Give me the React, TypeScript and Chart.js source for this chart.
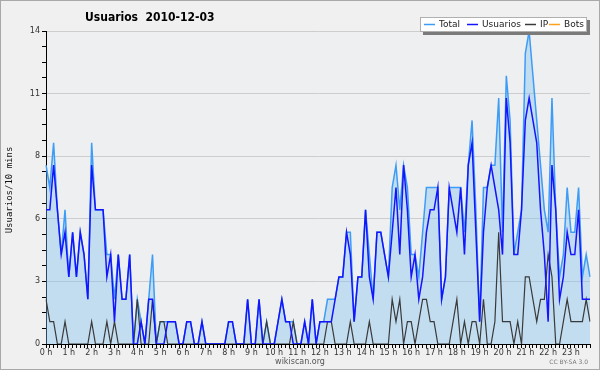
import React, { useEffect, useRef } from 'react';
import { Chart, registerables } from 'chart.js';

Chart.register(...registerables);

// hour tick labels (one every 6 ten-minute slots)
const hourLabels = [
  '0 h', '1 h', '2 h', '3 h', '4 h', '5 h', '6 h', '7 h', '8 h', '9 h', '10 h', '11 h',
  '12 h', '13 h', '14 h', '15 h', '16 h', '17 h', '18 h', '19 h', '20 h', '21 h', '22 h', '23 h',
];

// y tick labels shown at the major ticks
const yMajorLabels = [0, 3, 6, 8, 11, 14];
const yMax = 14;

// 144 ten-minute slots
const total = [
  8, 7, 9, 6, 4, 6, 3, 5, 3, 5, 4, 2,
  9, 6, 6, 6, 4, 4, 2, 4, 2, 2, 4, 0,
  2, 1, 0, 2, 4, 0, 1, 1, 1, 1, 1, 0,
  0, 1, 1, 0, 0, 1, 0, 0, 0, 0, 0, 0,
  1, 1, 0, 0, 0, 2, 0, 0, 2, 0, 1, 0,
  0, 1, 2, 1, 1, 1, 0, 0, 1, 0, 2, 0,
  1, 1, 2, 2, 2, 3, 3, 5, 5, 1, 3, 3,
  6, 4, 2, 5, 5, 4, 3, 7, 8, 6, 8, 7,
  4, 4, 3, 5, 7, 7, 7, 7, 2, 3, 7, 7,
  7, 7, 5, 8, 10, 6, 1, 7, 7, 8, 8, 11,
  5, 12, 10, 4, 5, 6, 13, 14, 12, 10, 8, 6,
  5, 11, 6, 3, 4, 7, 5, 5, 7, 3, 4, 3,
];

const usuarios = [
  6, 6, 8, 6, 4, 5, 3, 5, 3, 5, 4, 2,
  8, 6, 6, 6, 3, 4, 1, 4, 2, 2, 4, 0,
  0, 1, 0, 2, 2, 0, 0, 0, 1, 1, 1, 0,
  0, 1, 1, 0, 0, 1, 0, 0, 0, 0, 0, 0,
  1, 1, 0, 0, 0, 2, 0, 0, 2, 0, 0, 0,
  0, 1, 2, 1, 1, 0, 0, 0, 1, 0, 2, 0,
  1, 1, 1, 1, 2, 3, 3, 5, 4, 1, 3, 3,
  6, 3, 2, 5, 5, 4, 3, 5, 7, 4, 8, 6,
  3, 4, 2, 3, 5, 6, 6, 7, 2, 3, 7, 6,
  5, 7, 4, 8, 9, 5, 1, 5, 7, 8, 7, 6,
  4, 11, 9, 4, 4, 6, 10, 11, 10, 9, 6, 4,
  1, 8, 6, 2, 3, 5, 4, 4, 6, 2, 2, 2,
];

const ip = [
  2, 1, 1, 0, 0, 1, 0, 0, 0, 0, 0, 0,
  1, 0, 0, 0, 1, 0, 1, 0, 0, 0, 0, 0,
  2, 0, 0, 0, 2, 0, 1, 1, 0, 0, 0, 0,
  0, 0, 0, 0, 0, 0, 0, 0, 0, 0, 0, 0,
  0, 0, 0, 0, 0, 0, 0, 0, 0, 0, 1, 0,
  0, 0, 0, 0, 0, 1, 0, 0, 0, 0, 0, 0,
  0, 0, 1, 1, 0, 0, 0, 0, 1, 0, 0, 0,
  0, 1, 0, 0, 0, 0, 0, 2, 1, 2, 0, 1,
  1, 0, 1, 2, 2, 1, 1, 0, 0, 0, 0, 1,
  2, 0, 1, 0, 1, 1, 0, 2, 0, 0, 1, 5,
  1, 1, 1, 0, 1, 0, 3, 3, 2, 1, 2, 2,
  4, 3, 0, 0, 1, 2, 1, 1, 1, 1, 2, 1,
];

const slots = total.map((_, i) => String(i));

const legendItems = [
  { label: 'Total', color: '#3d9cf5', x: 424 },
  { label: 'Usuarios', color: '#1414ff', x: 467 },
  { label: 'IP', color: '#3a3a3a', x: 525 },
  { label: 'Bots', color: '#ffa020', x: 549 },
];

const decor = {
  id: 'decor',
  beforeDraw(chart: any) {
    const { ctx, chartArea: a } = chart;
    ctx.save();
    ctx.fillStyle = '#f0f0f0';
    ctx.fillRect(0, 0, chart.width, chart.height);
    ctx.fillStyle = '#eeeff1';
    ctx.fillRect(a.left, a.top, a.right - a.left, a.bottom - a.top);
    ctx.restore();
  },
  afterDraw(chart: any) {
    const { ctx } = chart;
    ctx.save();
    // outer frame
    ctx.strokeStyle = '#a8a8a8';
    ctx.lineWidth = 1;
    ctx.strokeRect(0.5, 0.5, chart.width - 1, chart.height - 1);

    // title
    ctx.fillStyle = '#000';
    ctx.font = 'bold 12px "DejaVu Sans Condensed", "DejaVu Sans", sans-serif';
    ctx.textAlign = 'left';
    ctx.textBaseline = 'alphabetic';
    ctx.fillText('Usuarios  2010-12-03', 85, 21);

    // legend box
    ctx.fillStyle = '#7a7a7a';
    ctx.fillRect(423, 20, 167, 15);
    ctx.fillStyle = '#ffffff';
    ctx.fillRect(420, 17, 167, 15);
    ctx.strokeStyle = '#b0b0b0';
    ctx.strokeRect(420.5, 17.5, 166, 14);
    ctx.font = '9px "DejaVu Sans", sans-serif';
    ctx.textBaseline = 'middle';
    ctx.textAlign = 'left';
    legendItems.forEach((it) => {
      ctx.strokeStyle = it.color;
      ctx.lineWidth = 1.5;
      ctx.beginPath();
      ctx.moveTo(it.x, 24.5);
      ctx.lineTo(it.x + 11, 24.5);
      ctx.stroke();
      ctx.fillStyle = '#222';
      ctx.fillText(it.label, it.x + 15, 25);
    });

    // y axis title
    ctx.save();
    ctx.translate(10, 190);
    ctx.rotate(-Math.PI / 2);
    ctx.textAlign = 'center';
    ctx.textBaseline = 'middle';
    ctx.font = '9px "DejaVu Sans Mono", monospace';
    ctx.fillStyle = '#111';
    ctx.fillText('Usuarios/10 mins', 0, 0);
    ctx.restore();

    // footer
    ctx.textAlign = 'center';
    ctx.textBaseline = 'alphabetic';
    ctx.font = '8px "DejaVu Sans", sans-serif';
    ctx.fillStyle = '#555';
    ctx.fillText('wikiscan.org', 300, 364);
    ctx.textAlign = 'right';
    ctx.font = '6px "DejaVu Sans", sans-serif';
    ctx.fillStyle = '#777';
    ctx.fillText('CC BY-SA 3.0', 588, 364);
    ctx.restore();
  },
};

export default function App() {
  const ref = useRef<HTMLCanvasElement | null>(null);

  useEffect(() => {
    if (!ref.current) return;
    const chart = new Chart(ref.current, {
      type: 'line',
      data: {
        labels: slots,
        datasets: [
          {
            label: 'Usuarios',
            data: usuarios,
            borderColor: '#1414ff',
            borderWidth: 1.5,
            pointRadius: 0,
            fill: false,
            tension: 0,
          },
          {
            label: 'IP',
            data: ip,
            borderColor: '#3a3a3a',
            borderWidth: 1.2,
            pointRadius: 0,
            fill: false,
            tension: 0,
          },
          {
            label: 'Total',
            data: total,
            borderColor: '#3d9cf5',
            backgroundColor: 'rgba(124,190,238,0.38)',
            borderWidth: 1.5,
            pointRadius: 0,
            fill: 'origin',
            tension: 0,
          },
        ],
      },
      options: {
        responsive: false,
        animation: false,
        events: [],
        layout: { padding: { left: 0, right: 10, top: 31, bottom: 0 } },
        plugins: {
          legend: { display: false },
          title: { display: false },
          tooltip: { enabled: false },
        },
        scales: {
          x: {
            type: 'category',
            offset: false,
            grid: {
              display: true,
              drawOnChartArea: false,
              drawTicks: true,
              tickLength: 4,
              tickColor: '#000',
            },
            border: { display: true, color: '#000', width: 1 },
            ticks: {
              autoSkip: false,
              maxRotation: 0,
              minRotation: 0,
              padding: 0,
              color: '#333',
              font: { family: 'DejaVu Sans', size: 8 },
              callback: (_v: any, i: number) => (i % 6 === 0 ? hourLabels[i / 6] : ''),
            },
            afterFit: (s: any) => {
              s.height = 26;
            },
          },
          y: {
            type: 'linear',
            min: 0,
            max: yMax,
            afterBuildTicks: (s: any) => {
              s.ticks = Array.from({ length: 21 }, (_, k) => ({ value: (yMax / 20) * k }));
            },
            grid: {
              color: (c: any) => (c.index % 4 === 0 && c.index > 0 ? '#cdcdcd' : 'rgba(0,0,0,0)'),
              tickColor: '#000',
              tickLength: 4,
              drawTicks: true,
            },
            border: { display: true, color: '#000', width: 1 },
            ticks: {
              padding: 2,
              color: '#333',
              font: { family: 'DejaVu Sans', size: 8 },
              callback: (_v: any, i: number) => (i % 4 === 0 ? String(yMajorLabels[i / 4]) : ''),
            },
            afterFit: (s: any) => {
              s.width = 46;
            },
          },
        },
      },
      plugins: [decor],
    });
    return () => chart.destroy();
  }, []);

  return (
    <div style={{ position: 'fixed', left: 0, top: 0, width: 600, height: 370 }}>
      <canvas ref={ref} width={600} height={370} style={{ display: 'block' }} />
    </div>
  );
}
